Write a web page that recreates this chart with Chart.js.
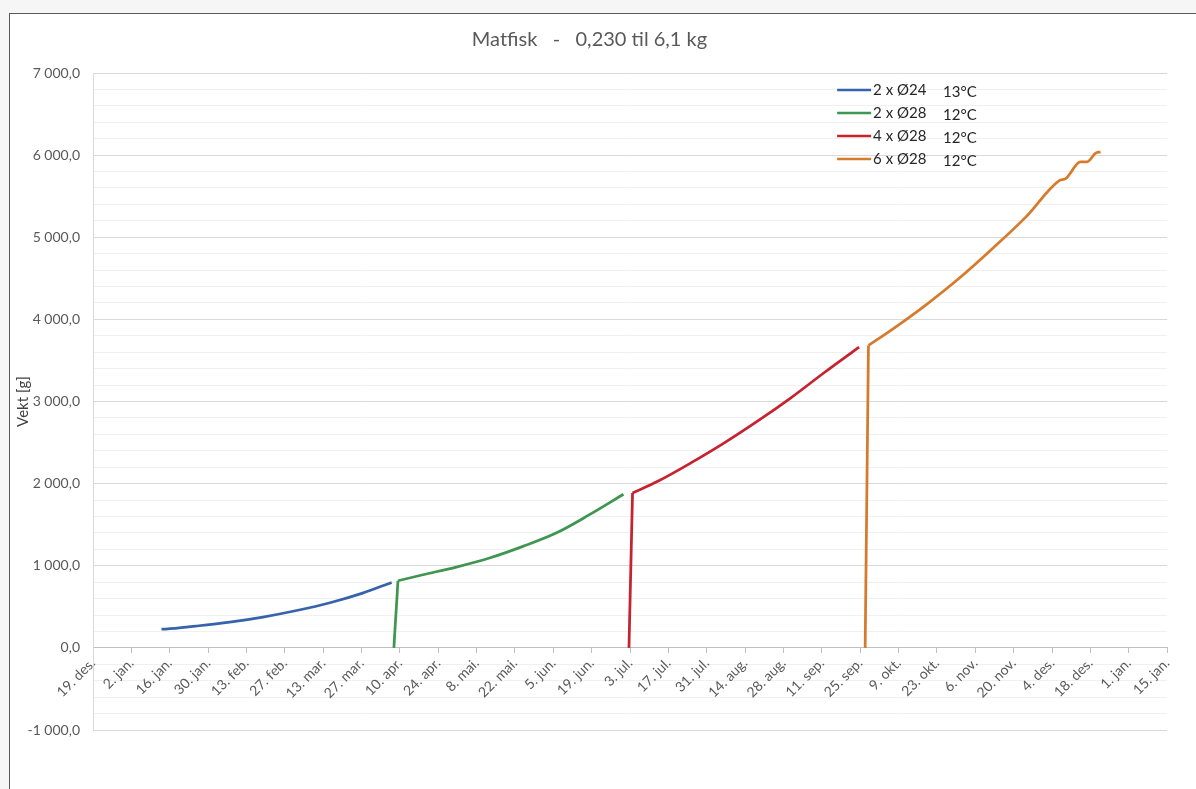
<!DOCTYPE html>
<html>
<head>
<meta charset="utf-8">
<title>Matfisk</title>
<script src="https://cdn.jsdelivr.net/npm/chart.js@4.4.0/dist/chart.umd.min.js"></script>
<style>
  html, body { margin: 0; padding: 0; background: #f6f6f6; }
  #frame {
    position: absolute; left: 9px; top: 13px; width: 1187px; height: 776px;
    background: #fff; border-left: 1px solid #5a5a5a; border-top: 1px solid #5a5a5a;
  }
  #myChart { position: absolute; left: 1px; top: 1px; }
</style>
</head>
<body>
<div id="frame"><canvas id="myChart" width="1170" height="774"></canvas></div>
<script>
// x values are days counted from 19. des.
var tickLabels = ["19. des.", "2. jan.", "16. jan.", "30. jan.", "13. feb.", "27. feb.", "13. mar.",
  "27. mar.", "10. apr.", "24. apr.", "8. mai.", "22. mai.", "5. jun.", "19. jun.", "3. jul.",
  "17. jul.", "31. jul.", "14. aug.", "28. aug.", "11. sep.", "25. sep.", "9. okt.", "23. okt.",
  "6. nov.", "20. nov.", "4. des.", "18. des.", "1. jan.", "15. jan."];

var seriesNames = ["2 x Ø24", "2 x Ø28", "4 x Ø28", "6 x Ø28"];
var seriesTemps = ["13°C", "12°C", "12°C", "12°C"];
var seriesColors = ["#3763ad", "#3f9650", "#c6222f", "#d67b2c"];

var blueDays = [25.0, 26.5, 37.5, 49.9, 62.0, 74.3, 86.5, 98.4, 109.0];
var blueVekt = [228, 229, 265, 313, 375, 455, 550, 667, 797];

var greenDays = [109.8, 111.3, 120.4, 132.6, 144.7, 156.9, 169.0, 181.2, 193.6];
var greenVekt = [0, 817, 890, 984, 1094, 1236, 1398, 1622, 1870];

var redDays = [195.6, 196.9, 206.1, 218.2, 230.4, 242.5, 254.7, 266.8, 279.6];
var redVekt = [0, 1886, 2028, 2252, 2496, 2760, 3045, 3350, 3662];

var orangeDays = [281.8, 283.0, 291.7, 303.9, 316.1, 328.2, 340.4, 352.5, 355.0, 360.4, 362.8, 365.9, 367.7];
var orangeVekt = [0, 3683, 3878, 4174, 4500, 4860, 5245, 5687, 5715, 5918, 5918, 6024, 6040];

function toPoints(days, vekt) {
  return days.map(function (d, i) { return { x: d, y: vekt[i] }; });
}

function fmt(v) {
  var s = Math.abs(v).toString().replace(/\B(?=(\d{3})+(?!\d))/g, " ");
  return (v < 0 ? "-" : "") + s + ",0";
}

var allData = [
  toPoints(blueDays, blueVekt),
  toPoints(greenDays, greenVekt),
  toPoints(redDays, redVekt),
  toPoints(orangeDays, orangeVekt),
];

// the jump up from 0 is drawn straight, the growth part smooth
var datasets = [];
allData.forEach(function (pts, i) {
  var curve = pts;
  if (pts[0].y === 0) {
    datasets.push({
      data: pts.slice(0, 2),
      borderColor: seriesColors[i],
      borderWidth: 2.75,
      pointRadius: 0,
      tension: 0,
    });
    curve = pts.slice(1);
  }
  datasets.push({
    label: seriesNames[i],
    data: curve,
    borderColor: seriesColors[i],
    borderWidth: 2.75,
    pointRadius: 0,
    cubicInterpolationMode: "monotone",
  });
});

// legend stacked in the top right of the plot
var cornerLegend = {
  id: "cornerLegend",
  afterDraw: function (chart) {
    var ctx = chart.ctx;
    var x0 = chart.chartArea.right - 330;
    ctx.save();
    ctx.font = "15px Lato";
    ctx.textBaseline = "middle";
    seriesNames.forEach(function (name, i) {
      var y = chart.chartArea.top + 17 + i * 23;
      ctx.strokeStyle = seriesColors[i];
      ctx.lineWidth = 2.5;
      ctx.beginPath();
      ctx.moveTo(x0, y);
      ctx.lineTo(x0 + 34, y);
      ctx.stroke();
      ctx.fillStyle = "#262626";
      ctx.fillText(name, x0 + 36, y);
      ctx.fillText(seriesTemps[i], x0 + 106, y + 2);
    });
    ctx.restore();
  },
};

var ctx = document.getElementById("myChart").getContext("2d");

var myChart = new Chart(ctx, {
  type: "line",
  data: { datasets: datasets },
  options: {
    responsive: false,
    animation: false,
    devicePixelRatio: 1,
    layout: { padding: { left: 0, right: 13, top: 0, bottom: 59 } },
    plugins: {
      legend: { display: false },
      tooltip: { enabled: false },
      title: {
        display: true,
        text: "Matfisk   -   0,230 til 6,1 kg",
        color: "#595959",
        font: { family: "Lato", size: 20, weight: "normal" },
        padding: { top: 13, bottom: 21 },
      },
    },
    scales: {
      x: {
        type: "linear",
        position: { y: 0 },
        min: 0,
        max: 392,
        grid: { drawOnChartArea: false, color: "#bfbfbf", tickLength: 5 },
        border: { color: "#bfbfbf" },
        ticks: {
          stepSize: 14,
          autoSkip: false,
          maxRotation: 45,
          minRotation: 45,
          padding: 2,
          color: "#595959",
          font: { family: "Lato", size: 14 },
          callback: function (value) { return tickLabels[Math.round(value / 14)]; },
        },
      },
      y: {
        min: -1000,
        max: 7000,
        afterFit: function (scale) { scale.width = 82; },
        grid: {
          drawTicks: false,
          color: function (c) { return c.tick && c.tick.value % 1000 === 0 ? "#d9d9d9" : "#f0f0f0"; },
        },
        border: { color: "#d9d9d9" },
        ticks: {
          stepSize: 200,
          autoSkip: false,
          padding: 13,
          color: "#595959",
          font: { family: "Lato", size: 14 },
          callback: function (value) { return value % 1000 === 0 ? fmt(value) : ""; },
        },
        title: {
          display: true,
          text: "Vekt [g]",
          color: "#404040",
          font: { family: "Lato", size: 15 },
          padding: { top: 3, bottom: 4 },
        },
      },
    },
  },
  plugins: [cornerLegend],
});
</script>
</body>
</html>
